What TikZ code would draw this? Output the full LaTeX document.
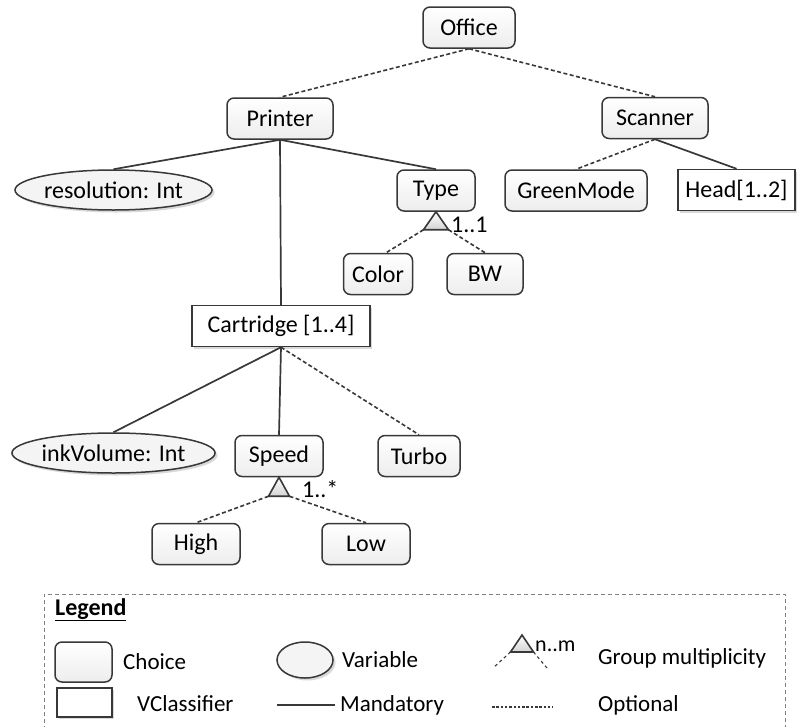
\documentclass[tikz,border=0pt]{standalone}
\usepackage{fontspec}
\setmainfont{Carlito}
\usetikzlibrary{shapes.geometric,shadows,calc}

\definecolor{ink}{HTML}{383838}
\definecolor{boxfill}{HTML}{EDEDED}

\begin{document}
\begin{tikzpicture}[x=1pt,y=-1pt,
  font=\fontsize{24}{28}\selectfont,
  choice/.style={draw=ink, line width=1.5pt, rounded corners=7pt,
    top color=white, bottom color=boxfill, inner sep=0pt,
    minimum width=#1, minimum height=41pt},
  variable/.style={ellipse, draw=ink, line width=1.5pt, fill=boxfill!60,
    inner sep=0pt, minimum width=#1, minimum height=40pt,
    drop shadow={shadow xshift=2.5pt, shadow yshift=-2.5pt, opacity=0.3}},
  vclass/.style={draw=ink, line width=1.5pt, fill=white, inner sep=0pt,
    minimum width=#1, minimum height=41pt,
    drop shadow={shadow xshift=2pt, shadow yshift=-2pt, opacity=0.3}},
  mand/.style={draw=ink, line width=1.7pt},
  opt/.style={draw=ink, line width=1.6pt, dash pattern=on 4pt off 2.5pt},
  grp/.style={draw=ink, line width=1.6pt, top color=white, bottom color=gray!35},
  mult/.style={anchor=base west, inner sep=0pt},
  legtext/.style={anchor=west, inner sep=0pt, font=\fontsize{23}{26}\selectfont},
]
\useasboundingbox (0,0) rectangle (797,726);

% ---- feature tree ----
\node[choice=92] (office) at (469,27.5) {Office};
\node[choice=106] (printer) at (280,118.5) {Printer};
\node[choice=106] (scanner) at (655,118) {Scanner};
\node[variable=197] (res) at (113.5,190) {resolution: Int};
\node[choice=78] (type) at (436,190.5) {Type};
\node[choice=142] (green) at (576,190.5) {GreenMode};
\node[vclass=117] (head) at (736.5,190) {Head[1..2]};
\node[choice=69] (color) at (378,274) {Color};
\node[choice=76] (bw) at (485,274) {BW};
\node[vclass=178] (cart) at (281,326) {Cartridge [1..4]};
\node[variable=197] (ink) at (113.5,453) {inkVolume: Int};
\node[choice=88] (speed) at (279,456) {Speed};
\node[choice=82] (turbo) at (419,456) {Turbo};
\node[choice=88] (high) at (196,544) {High};
\node[choice=88] (low) at (366,544) {Low};

% connectors
\draw[opt] (office.south) -- (printer.north);
\draw[opt] (office.south) -- (scanner.north);
\draw[mand] (printer.south) -- (res.north);
\draw[mand] (printer.south) -- (cart.north);
\draw[mand] (printer.south) -- (type.north);
\draw[opt] (scanner.south) -- (green.north);
\draw[mand] (scanner.south) -- (head.north);
\draw[mand] (cart.south) -- (ink.north);
\draw[mand] (cart.south) -- (speed.north);
\draw[opt] (cart.south) -- (turbo.north);

% group of Type
\coordinate (tA) at (type.south);
\coordinate (tL) at ($(tA)+(-12.5,18)$);
\coordinate (tR) at ($(tA)+(12.5,18)$);
\draw[opt] (tL) -- ($(color.north)+(8,0)$);
\draw[opt] (tR) -- (bw.north);
\draw[grp] (tA) -- (tL) -- (tR) -- cycle;
\node[mult] (m1) at (451,232) {1..1};

% group of Speed
\coordinate (sA) at (speed.south);
\coordinate (sL) at ($(sA)+(-10.5,19)$);
\coordinate (sR) at ($(sA)+(10.5,19)$);
\draw[opt] (sL) -- (high.north);
\draw[opt] (sR) -- (low.north);
\draw[grp] (sA) -- (sL) -- (sR) -- cycle;
\node[mult] (m2) at (302,497) {1..*};

% ---- legend ----
\draw[gray, line width=0.9pt, dash pattern=on 4pt off 3pt] (44,730) -- (44,594) -- (785,594) -- (785,730);
\node[anchor=base west, inner sep=0pt] (legtitle) at (55,615) {\underline{\textbf{Legend}}};

\node[choice=57, minimum height=40pt] (lchoice) at (83.5,662) {};
\node[legtext] (tchoice) at (123,662) {Choice};
\node[variable=56, minimum height=36pt] (lvar) at (305,660) {};
\node[legtext] (tvar) at (342,660) {Variable};

\coordinate (gA) at (522,635);
\coordinate (gL) at (510.5,652);
\coordinate (gR) at (533.5,652);
\coordinate (gLL) at (493,668);
\coordinate (gRR) at (547,668);
\draw[opt, line width=1.1pt, dash pattern=on 3pt off 3pt] (gL) -- (gLL);
\draw[opt, line width=1.1pt, dash pattern=on 3pt off 3pt] (gR) -- (gRR);
\draw[grp] (gA) -- (gL) -- (gR) -- cycle;
\node[anchor=base west, inner sep=0pt, font=\fontsize{22}{26}\selectfont] (tnm) at (535,651) {n..m};
\node[legtext] (tgrp) at (598,658) {Group multiplicity};

\node[vclass=55, minimum height=29pt] (lvc) at (84.5,702.5) {};
\node[legtext] (tvc) at (137,704) {VClassifier};
\coordinate (mL) at (277,705);
\coordinate (mR) at (335,705);
\draw[mand] (mL) -- (mR);
\node[legtext] (tmand) at (340,705) {Mandatory};
\coordinate (oL) at (492,707);
\coordinate (oR) at (553,707);
\draw[ink, line width=1.2pt, dash pattern=on 2.5pt off 1.8pt] (oL) -- (oR);
\node[legtext] (topt) at (598,705) {Optional};
\end{tikzpicture}
\end{document}
